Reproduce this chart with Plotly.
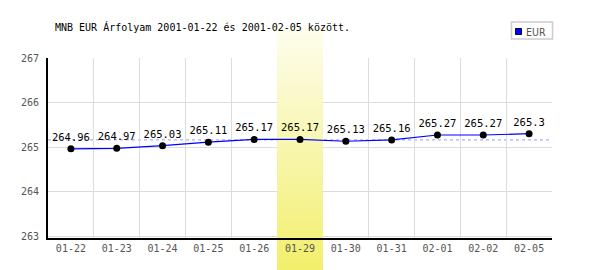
import plotly.graph_objects as go

# ---- data ----
dates = ["01-22", "01-23", "01-24", "01-25", "01-26", "01-29",
         "01-30", "01-31", "02-01", "02-02", "02-05"]
rates = [264.96, 264.97, 265.03, 265.11, 265.17, 265.17,
         265.13, 265.16, 265.27, 265.27, 265.3]
y_ticks = [263, 264, 265, 266, 267]
highlight_date = "01-29"
reference_rate = 265.16
series_name = "EUR"
title_text = "MNB EUR Árfolyam 2001-01-22 és 2001-02-05 között."

# ---- layout geometry ----
W, H = 600, 270
ML, MR, MT, MB = 48, 48, 58, 32
PW, PH = W - ML - MR, H - MT - MB
Y_TOP = 267.0
UNIT = 44.5
Y_MIN = Y_TOP - PH / UNIT

MONO = "DejaVu Sans Mono"
GRID = "#dcdcdc"
TICK = "#555555"


def px_to_paper_y(ypx):
    return (H - MB - ypx) / PH


def px_to_paper_x(xpx):
    return (xpx - ML) / PW


def px_to_data_y(ypx):
    return Y_MIN + (H - MB - ypx) / UNIT


fig = go.Figure()

fig.add_trace(go.Scatter(
    x=dates, y=rates, mode="lines+markers+text",
    name=series_name,
    text=[f"{v:g}" for v in rates],
    textposition="top center",
    textfont=dict(family=MONO, size=10.5, color="black"),
    line=dict(color="#0000ff", width=1.2),
    marker=dict(color="black", size=7),
    showlegend=False,
    cliponaxis=False,
))

shapes = []

# highlight band (vertical gradient), drawn in strips
idx = dates.index(highlight_date)
n = len(dates)
bx0, bx1 = idx - 0.5, idx + 0.5
px0, px1 = (bx0 + 0.5) / n, (bx1 + 0.5) / n
top_px, bot_px = 28, H
c_top = (254, 253, 238)
c_bot = (242, 239, 108)
step = 2
y = top_px
while y < bot_px:
    y2 = min(y + step, bot_px)
    # split on plot edges
    for edge in (MT, H - MB):
        if y < edge < y2:
            y2 = edge
    t = ((y + y2) / 2 - top_px) / (bot_px - top_px)
    col = "rgb({},{},{})".format(*[round(a + (b - a) * t) for a, b in zip(c_top, c_bot)])
    inside = y >= MT and y2 <= H - MB
    if inside:
        shapes.append(dict(type="rect", xref="x", yref="y", x0=bx0, x1=bx1,
                           y0=px_to_data_y(y2), y1=px_to_data_y(y),
                           fillcolor=col, line=dict(width=0), layer="between"))
    else:
        shapes.append(dict(type="rect", xref="paper", yref="paper", x0=px0, x1=px1,
                           y0=px_to_paper_y(y2), y1=px_to_paper_y(y),
                           fillcolor=col, line=dict(width=0), layer="below"))
    y = y2

# reference (average) dashed line
shapes.append(dict(type="line", xref="paper", yref="y", x0=0, x1=1,
                   y0=reference_rate, y1=reference_rate,
                   line=dict(color="#9999ff", width=1, dash="3px,3px"),
                   layer="between"))

# manual legend box
shapes.append(dict(type="rect", xref="paper", yref="paper",
                   x0=px_to_paper_x(511.5), x1=px_to_paper_x(552.5),
                   y0=px_to_paper_y(39), y1=px_to_paper_y(22),
                   fillcolor="white", line=dict(color="#cccccc", width=1.5),
                   layer="above"))
shapes.append(dict(type="rect", xref="paper", yref="paper",
                   x0=px_to_paper_x(515.5), x1=px_to_paper_x(521.5),
                   y0=px_to_paper_y(34.5), y1=px_to_paper_y(28.5),
                   fillcolor="#0000ff", line=dict(color="#000044", width=1),
                   layer="above"))

annotations = [
    dict(text=title_text, xref="paper", yref="paper",
         x=px_to_paper_x(53), y=px_to_paper_y(27), xanchor="left", yanchor="middle",
         showarrow=False, font=dict(family=MONO, size=10, color="black")),
    dict(text=series_name, xref="paper", yref="paper",
         x=px_to_paper_x(523.5), y=px_to_paper_y(31.5), xanchor="left", yanchor="middle",
         showarrow=False, font=dict(family="DejaVu Sans Condensed", size=10.5, color=TICK)),
]

fig.update_layout(
    width=W, height=H,
    margin=dict(l=ML, r=MR, t=MT, b=MB, pad=0),
    paper_bgcolor="white", plot_bgcolor="white",
    shapes=shapes, annotations=annotations,
    showlegend=False,
    xaxis=dict(
        type="category", range=[-0.5, n - 0.5],
        tickson="boundaries", ticks="outside", ticklen=3, tickcolor="rgba(0,0,0,0)",
        showgrid=True, gridcolor=GRID, gridwidth=1,
        showline=True, linecolor="black", linewidth=2,
        tickfont=dict(family=MONO, size=10, color=TICK),
        zeroline=False, fixedrange=True,
    ),
    yaxis=dict(
        range=[Y_MIN, Y_TOP + 0.001], tickvals=y_ticks,
        ticktext=[str(v) for v in y_ticks],
        ticks="outside", ticklen=5, tickcolor="rgba(0,0,0,0)",
        showgrid=True, gridcolor=GRID, gridwidth=1,
        showline=True, linecolor="black", linewidth=2,
        tickfont=dict(family=MONO, size=10, color=TICK),
        zeroline=False, fixedrange=True,
    ),
)

fig.write_html("out.html", config={"displayModeBar": False})
